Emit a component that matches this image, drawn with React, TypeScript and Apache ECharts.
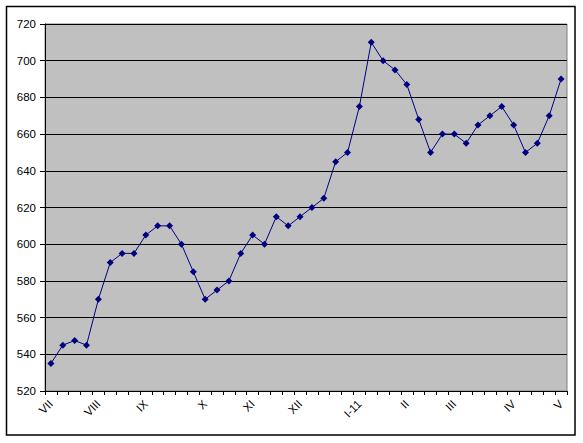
import React, { useEffect, useRef } from "react";
import * as echarts from "echarts";

// Weekly values (44 weeks)
const values: number[] = [
  535, 545, 547.5, 545, 570, 590, 595, 595, 605, 610, 610, 600, 585, 570, 575, 580,
  595, 605, 600, 615, 610, 615, 620, 625, 645, 650, 675, 710, 700, 695, 687, 668,
  650, 660, 660, 655, 665, 670, 675, 665, 650, 655, 670, 690,
];

// Month labels and the week index where each appears
const monthLabels: string[] = ["VII", "VIII", "IX", "X", "XI", "XII", "I-11", "II", "III", "IV", "V"];
const monthIndex: number[] = [0, 4, 8, 13, 17, 21, 26, 30, 34, 39, 43];

const weeks: string[] = values.map((_, i) => String(i + 1));

const yMin = 520;
const yMax = 720;
const yStep = 20;

export default function App() {
  const ref = useRef<HTMLDivElement>(null);

  useEffect(() => {
    document.body.style.margin = "0";
    if (!ref.current) return;
    const chart = echarts.init(ref.current, undefined, { renderer: "svg" });
    const font = "'Liberation Sans', Arial, sans-serif";
    chart.setOption({
      animation: false,
      backgroundColor: "#FFFFFF",
      textStyle: { fontFamily: font },
      graphic: [
        {
          type: "rect",
          shape: { x: 6.5, y: 6.5, width: 568.5, height: 428.5 },
          style: { fill: "none", stroke: "#000000", lineWidth: 1.5 },
          silent: true,
        },
      ],
      grid: {
        left: 45,
        top: 24,
        right: 16,
        bottom: 52,
        containLabel: false,
        show: true,
        backgroundColor: "#C0C0C0",
        borderColor: "#808080",
        borderWidth: 1,
      },
      xAxis: {
        type: "category",
        data: weeks,
        boundaryGap: true,
        axisLine: { show: true, lineStyle: { color: "#000000", width: 1 } },
        axisTick: { show: true, interval: 0, length: 4, lineStyle: { color: "#000000" } },
        axisLabel: {
          show: true,
          interval: (i: number) => monthIndex.indexOf(i) >= 0,
          formatter: (_v: string, i: number) => {
            const k = monthIndex.indexOf(i);
            return k >= 0 ? monthLabels[k] : "";
          },
          rotate: 45,
          margin: 11,
          color: "#000000",
          fontSize: 11.5,
          fontFamily: font,
        },
        splitLine: { show: false },
      },
      yAxis: {
        type: "value",
        min: yMin,
        max: yMax,
        interval: yStep,
        axisLine: { show: true, lineStyle: { color: "#000000", width: 1 } },
        axisTick: { show: true, length: 5, lineStyle: { color: "#000000" } },
        axisLabel: { color: "#000000", fontSize: 11.5, margin: 9, fontFamily: font },
        splitLine: { show: true, lineStyle: { color: "#000000", width: 1 } },
      },
      series: [
        {
          type: "line",
          data: values,
          symbol: "diamond",
          symbolSize: 7,
          lineStyle: { color: "#000080", width: 1 },
          itemStyle: { color: "#000080" },
        },
      ],
    });
    return () => chart.dispose();
  }, []);

  return <div ref={ref} style={{ width: 583, height: 443 }} />;
}
